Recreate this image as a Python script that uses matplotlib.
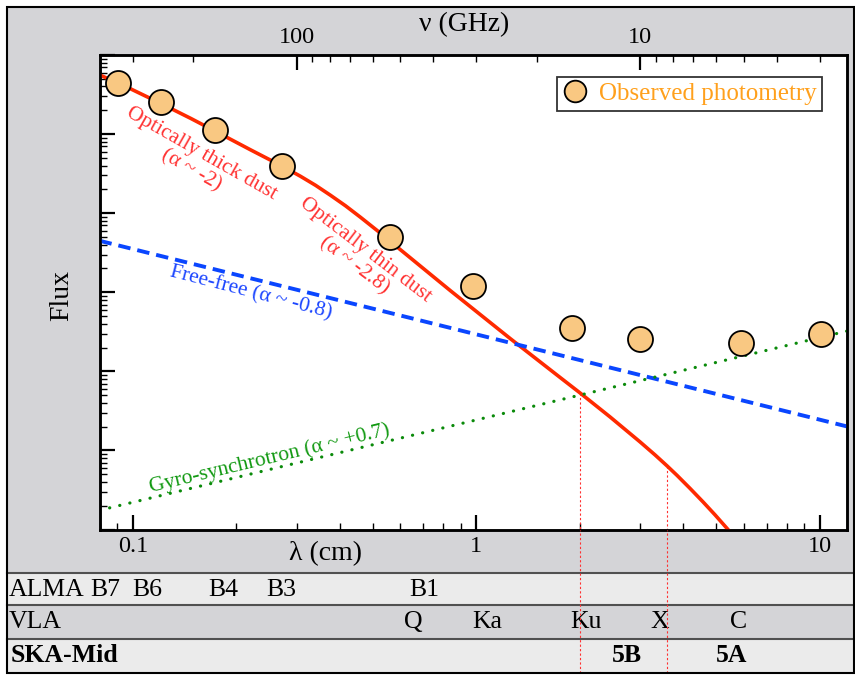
import numpy as np
import matplotlib
matplotlib.use('Agg')
import matplotlib.pyplot as plt
from matplotlib.patches import Rectangle
from matplotlib.lines import Line2D
from matplotlib.ticker import FixedLocator, FixedFormatter, LogLocator, NullFormatter

plt.rcParams['font.family'] = ['Liberation Serif', 'DejaVu Serif']

# ---------------- data ----------------
obs_wavelength_cm = [0.0906, 0.1206, 0.173, 0.271, 0.560, 0.978, 1.897, 3.0, 5.88, 10.1]
obs_flux = [4.47e4, 2.55e4, 1.13e4, 3.96e3, 504, 121, 35.4, 25.7, 22.6, 29.7]

dust_wavelength_cm = [0.08017, 0.09867, 0.12063, 0.14749, 0.17310, 0.22028, 0.27110,
                      0.30785, 0.34045, 0.37634, 0.41613, 0.46007, 0.51540, 0.60128,
                      0.84038, 1.2556, 1.7547, 2.0059, 2.4520, 2.9979, 3.3144, 3.5925,
                      3.8408, 4.1886, 4.5697, 4.9536, 5.3659, 6.0534]
dust_flux = [55900, 37220, 24420, 15780, 10975, 6317, 3967, 2924, 2250, 1683, 1240,
             887.7, 599.6, 345.1, 104.8, 25.95, 8.35, 5.32, 2.649, 1.280, 0.877, 0.6372,
             0.4833, 0.3313, 0.2237, 0.1533, 0.1035, 0.0562]

freefree_wavelength_cm = [0.08, 12.0]
freefree_flux = [448, 2.01]

gyro_wavelength_cm = [0.08, 12.0]
gyro_flux = [0.175, 32.3]

marker_wavelength_cm = [2.0, 3.6]
marker_flux = [5.32, 0.637]

alma_bands = ['B7', 'B6', 'B4', 'B3', 'B1']
alma_wavelength_cm = [0.0834, 0.110, 0.184, 0.271, 0.706]
vla_bands = ['Q', 'Ka', 'Ku', 'X', 'C']
vla_wavelength_cm = [0.656, 1.076, 2.081, 3.427, 5.815]
ska_bands = ['5B', '5A']
ska_wavelength_cm = [2.739, 5.55]

x_ticks = [0.1, 1, 10]
x_tick_labels = ['0.1', '1', '10']
nu_ticks = [100, 10]
nu_tick_labels = ['100', '10']

# ---------------- layout ----------------
W, H = 855, 675
fig = plt.figure(figsize=(W / 100, H / 100), dpi=100)
fig.patch.set_facecolor('white')

def fx(px):
    return px / W

def fy(py):
    return 1 - py / H

GREY = '#d4d4d7'
LIGHT = '#ebebeb'

fig.add_artist(Rectangle((fx(7), fy(673)), fx(854) - fx(7), fy(7) - fy(673),
                         transform=fig.transFigure, facecolor=GREY, edgecolor='none', zorder=-3))
rows = [(573, 605, LIGHT), (605, 638.5, GREY), (638.5, 673, LIGHT)]
for top, bot, c in rows:
    fig.add_artist(Rectangle((fx(7), fy(bot)), fx(854) - fx(7), fy(top) - fy(bot),
                             transform=fig.transFigure, facecolor=c, edgecolor='none', zorder=-2))
for yy in [573, 605, 638.5]:
    fig.add_artist(Line2D([fx(7), fx(854)], [fy(yy), fy(yy)], transform=fig.transFigure,
                          color='#505050', lw=1.5, zorder=-1))
fig.add_artist(Rectangle((fx(7), fy(673)), fx(854) - fx(7), fy(7) - fy(673),
                         transform=fig.transFigure, facecolor='none', edgecolor='black',
                         lw=1.5, zorder=20))

L, R, T, B = 99.5, 847, 55, 529.5
ax = fig.add_axes([fx(L), fy(B), fx(R) - fx(L), fy(T) - fy(B)])
ax.set_facecolor('white')
ax.set_xscale('log')
ax.set_yscale('log')
ax.set_xlim(0.08, 12)
ax.set_ylim(0.1, 1e5)

RED = '#ff2a00'
ax.plot(dust_wavelength_cm, dust_flux, color=RED, lw=2.6, zorder=3,
        solid_joinstyle='round', solid_capstyle='butt')
ax.plot(freefree_wavelength_cm, freefree_flux, color='#0a46ff', lw=2.8,
        ls=(0, (3.2, 1.8)), zorder=3)
ax.plot(gyro_wavelength_cm, gyro_flux, color='#0a8a0a', lw=2.3,
        ls=(0, (0.05, 3.2)), dash_capstyle='round', zorder=3)
for lam, fl in zip(marker_wavelength_cm, marker_flux):
    ax.plot([lam, lam], [fl, 0.1], color='#ff3030', lw=0.8, ls=(0, (2, 2)), zorder=2)

ax.plot(obs_wavelength_cm, obs_flux, 'o', ms=18, mfc='#f9c882', mec='black', mew=1.3,
        zorder=5, clip_on=False)

# ticks
ax.xaxis.set_major_locator(FixedLocator(x_ticks))
ax.xaxis.set_major_formatter(FixedFormatter(x_tick_labels))
ax.xaxis.set_minor_locator(LogLocator(base=10, subs=np.arange(2, 10)))
ax.xaxis.set_minor_formatter(NullFormatter())
ax.yaxis.set_major_locator(LogLocator(base=10, numticks=20))
ax.yaxis.set_minor_locator(LogLocator(base=10, subs=np.arange(2, 10), numticks=20))
ax.yaxis.set_minor_formatter(NullFormatter())
ax.tick_params(which='both', direction='in', top=False, right=False, labelleft=False,
               labelsize=17.5, pad=5)
ax.tick_params(which='major', length=11, width=1.6)
ax.tick_params(which='minor', length=5, width=1.0)
for s in ax.spines.values():
    s.set_linewidth(1.8)

ax2 = ax.twiny()
ax2.set_xscale('log')
ax2.set_xlim(30 / 0.08, 30 / 12)
ax2.xaxis.set_major_locator(FixedLocator(nu_ticks))
ax2.xaxis.set_major_formatter(FixedFormatter(nu_tick_labels))
ax2.xaxis.set_minor_locator(LogLocator(base=10, subs=np.arange(2, 10)))
ax2.xaxis.set_minor_formatter(NullFormatter())
ax2.tick_params(which='both', direction='in', labelsize=17.5, pad=5)
ax2.tick_params(which='major', length=11, width=1.6)
ax2.tick_params(which='minor', length=5, width=1.0)
for s in ax2.spines.values():
    s.set_linewidth(1.8)

# axis labels
ax.text(0.3017, -0.0516, 'λ (cm)', transform=ax.transAxes, ha='center', va='center', fontsize=20)
ax.text(0.4876, 1.064, 'ν (GHz)', transform=ax.transAxes, ha='center', va='center', fontsize=20)
ax.text(-0.0502, 0.4942, 'Flux', transform=ax.transAxes, ha='center', va='center',
        fontsize=20, rotation=90)

# annotations
ax.text(0.1295, 0.7747, 'Optically thick dust\n(α ~ -2)', transform=ax.transAxes,
        ha='center', va='center', rotation=-29.6, rotation_mode='anchor',
        multialignment='center', color='#ff3333', fontsize=15.5, linespacing=1.0)
ax.text(0.3484, 0.5728, 'Optically thin dust\n(α ~ -2.8)', transform=ax.transAxes,
        ha='center', va='center', rotation=-37.4, rotation_mode='anchor',
        multialignment='center', color='#ff3333', fontsize=15.5, linespacing=1.0)
ax.text(0.2027, 0.4995, 'Free-free (α ~ -0.8)', transform=ax.transAxes,
        ha='center', va='center', rotation=-14.5, rotation_mode='anchor',
        color='#1a44ff', fontsize=15.5)
ax.text(0.2281, 0.1496, 'Gyro-synchrotron (α ~ +0.7)', transform=ax.transAxes,
        ha='center', va='center', rotation=13.5, rotation_mode='anchor',
        color='#119911', fontsize=15.5)

# legend
h = Line2D([], [], marker='o', ls='none', ms=15.6, mfc='#f9c882', mec='black', mew=1.3)
leg = ax.legend([h], ['Observed photometry'], loc='upper right',
                bbox_to_anchor=((822 - L) / (R - L), (B - 77) / (B - T)),
                fontsize=18, frameon=True, fancybox=False, edgecolor='black',
                borderpad=0.22, handlelength=1.0, handletextpad=0.46, borderaxespad=0,
                labelcolor='#ffa01c')
leg.get_frame().set_linewidth(1.3)
leg.set_zorder(10)

# table axes
axt = fig.add_axes([fx(L), fy(673), fx(R) - fx(L), fy(B) - fy(673)])
axt.set_xscale('log')
axt.set_xlim(0.08, 12)
axt.set_ylim(673, B)
axt.set_facecolor('none')
axt.axis('off')
for lam in marker_wavelength_cm:
    axt.axvline(lam, color='#ff3030', lw=0.8, ls=(0, (2, 2)), zorder=5)

row_y = {'alma': 589.5, 'vla': 622, 'ska': 656}
TFS = 18.5
for name, lam in zip(alma_bands, alma_wavelength_cm):
    axt.text(lam, row_y['alma'], name, ha='center', va='center', fontsize=TFS, clip_on=False)
for name, lam in zip(vla_bands, vla_wavelength_cm):
    axt.text(lam, row_y['vla'], name, ha='center', va='center', fontsize=TFS, clip_on=False)
for name, lam in zip(ska_bands, ska_wavelength_cm):
    axt.text(lam, row_y['ska'], name, ha='center', va='center', fontsize=TFS,
             fontweight='bold', clip_on=False)

fig.text(fx(9), fy(row_y['alma']), 'ALMA', ha='left', va='center', fontsize=TFS)
fig.text(fx(8.5), fy(row_y['vla']), 'VLA', ha='left', va='center', fontsize=TFS)
fig.text(fx(11), fy(row_y['ska']), 'SKA-Mid', ha='left', va='center', fontsize=TFS,
         fontweight='bold')

fig.savefig('out.png', dpi=100, facecolor=fig.get_facecolor())
